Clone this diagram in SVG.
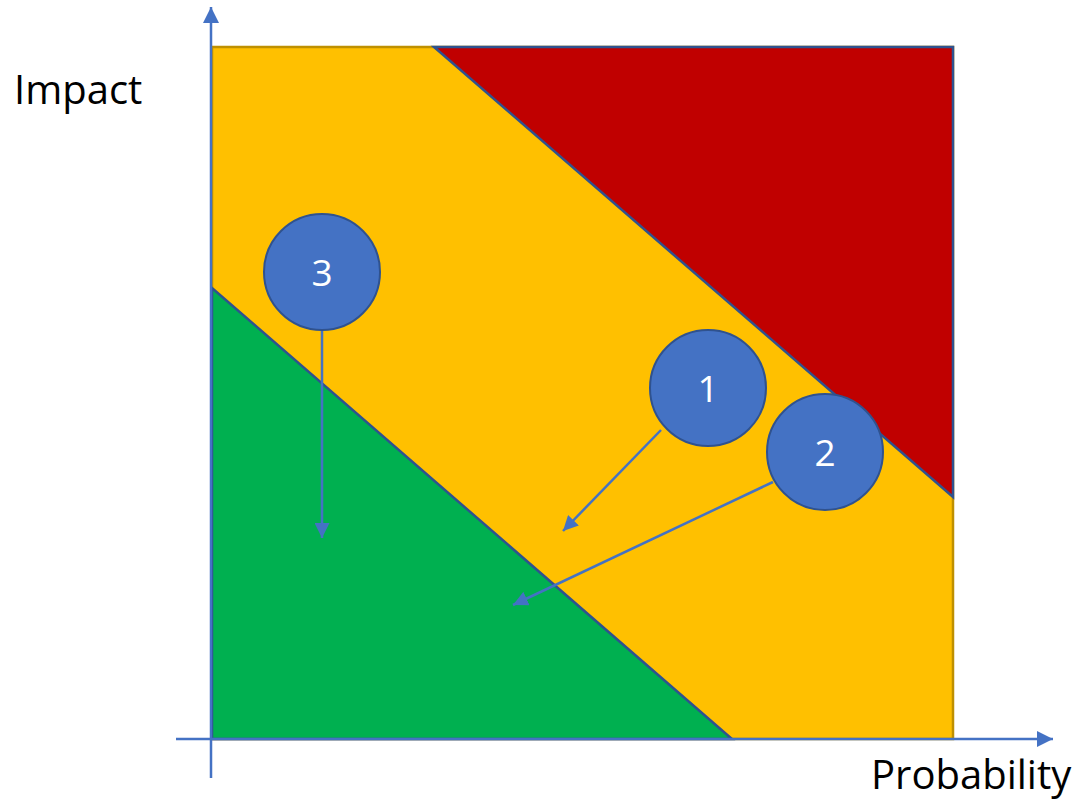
<svg xmlns="http://www.w3.org/2000/svg" width="1084" height="801" viewBox="0 0 1084 801">
<style>
.zone{stroke:#2F528F;stroke-width:2.5;stroke-linejoin:miter}
.axis{stroke:#4472C4;stroke-width:2.5;fill:none}
.arr{stroke:#4472C4;stroke-width:2.5;fill:none}
.node circle{fill:#4472C4;stroke:#2F528F;stroke-width:2}
.node text{fill:#FFFFFF;font-family:"Open Sans",Lato,sans-serif;font-size:37px;text-anchor:middle}
.lbl{fill:#000000;font-family:"Open Sans",Lato,sans-serif;font-size:40px}
</style>
<defs>
<marker id="ah" viewBox="0 0 10 10" refX="10" refY="5" markerWidth="6" markerHeight="6" markerUnits="strokeWidth" orient="auto">
<path d="M0,0 L10,5 L0,10 z" fill="#4472C4"/>
</marker>
<marker id="axh" viewBox="0 0 10 10" refX="10" refY="5" markerWidth="6.4" markerHeight="6.4" markerUnits="strokeWidth" orient="auto">
<path d="M0,0 L10,5 L0,10 z" fill="#4472C4"/>
</marker>
</defs>
<g id="zones">
<rect x="212" y="47" width="741" height="692" fill="#FFC000" stroke="#BF9000" stroke-width="2.5"/>
<polygon class="zone" points="434,47 953,47 953,497" fill="#C00000"/>
<polygon class="zone" points="212,288 212,739 732,739" fill="#00B050"/>
</g>
<g id="axes">
<line class="axis" x1="211" y1="778" x2="211" y2="7" marker-end="url(#axh)"/>
<line class="axis" x1="176" y1="739" x2="1053" y2="739" marker-end="url(#axh)"/>
</g>
<g id="connectors">
<line class="arr" x1="322" y1="330" x2="322" y2="538" marker-end="url(#ah)"/>
<line class="arr" x1="661" y1="430" x2="563" y2="531" marker-end="url(#ah)"/>
<line class="arr" x1="773" y1="482" x2="513" y2="605" marker-end="url(#ah)"/>
</g>
<g id="node3" class="node"><circle cx="322" cy="272" r="58"/><text x="322" y="286">3</text></g>
<g id="node1" class="node"><circle cx="708" cy="388" r="58"/><text x="708" y="402">1</text></g>
<g id="node2" class="node"><circle cx="825" cy="452" r="58"/><text x="825" y="466">2</text></g>
<g id="labels">
<text class="lbl" x="14" y="104">Impact</text>
<text class="lbl" x="871" y="789">Probability</text>
</g>
</svg>
